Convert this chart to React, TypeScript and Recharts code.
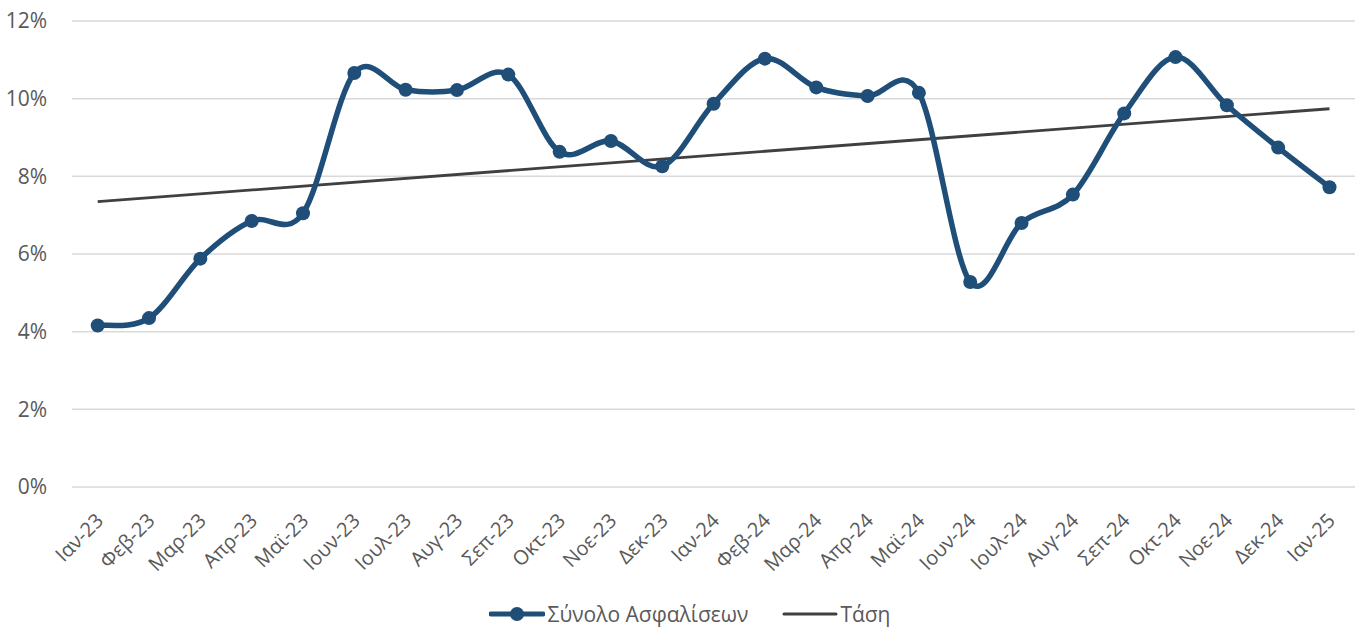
import React from "react";
import { LineChart, Line, XAxis, YAxis, CartesianGrid, Legend } from "recharts";

const months = [
  "Ιαν-23", "Φεβ-23", "Μαρ-23", "Απρ-23", "Μαϊ-23", "Ιουν-23", "Ιουλ-23", "Αυγ-23", "Σεπ-23",
  "Οκτ-23", "Νοε-23", "Δεκ-23", "Ιαν-24", "Φεβ-24", "Μαρ-24", "Απρ-24", "Μαϊ-24", "Ιουν-24",
  "Ιουλ-24", "Αυγ-24", "Σεπ-24", "Οκτ-24", "Νοε-24", "Δεκ-24", "Ιαν-25",
];

const totalInsurance = [
  4.16, 4.35, 5.88, 6.85, 7.05, 10.66, 10.23, 10.22, 10.62,
  8.63, 8.91, 8.26, 9.87, 11.03, 10.29, 10.07, 10.15, 5.28,
  6.8, 7.53, 9.62, 11.07, 9.83, 8.74, 7.72,
];

// Linear trend: endpoints only, drawn as a straight line between them
const trendStart = 7.35;
const trendEnd = 9.74;

const yTicks = [0, 2, 4, 6, 8, 10, 12];

const seriesName = "Σύνολο Ασφαλίσεων";
const trendName = "Τάση";

const data = months.map((m, i) => ({
  month: m,
  total: totalInsurance[i],
  trend: i === 0 ? trendStart : i === months.length - 1 ? trendEnd : null,
}));

const FONT = "'Open Sans', 'Noto Sans', sans-serif";
const TEXT = "#595959";
const BLUE = "#1F4E79";
const DARK = "#404040";

// Excel-like smoothing (Catmull-Rom / cardinal spline with tension 0)
function excelCurve(context: any) {
  let pts: number[][] = [];
  return {
    areaStart() {},
    areaEnd() {},
    lineStart() {
      pts = [];
    },
    point(x: number, y: number) {
      pts.push([+x, +y]);
    },
    lineEnd() {
      const n = pts.length;
      if (!n) return;
      context.moveTo(pts[0][0], pts[0][1]);
      for (let i = 0; i < n - 1; i++) {
        const p0 = pts[i - 1] || pts[i];
        const p1 = pts[i];
        const p2 = pts[i + 1];
        const p3 = pts[i + 2] || pts[i + 1];
        const c1x = p1[0] + (p2[0] - p0[0]) / 6;
        const c1y = p1[1] + (p2[1] - p0[1]) / 6;
        const c2x = p2[0] - (p3[0] - p1[0]) / 6;
        const c2y = p2[1] - (p3[1] - p1[1]) / 6;
        context.bezierCurveTo(c1x, c1y, c2x, c2y, p2[0], p2[1]);
      }
    },
  };
}

const XTick = (props: any) => {
  const { x, y, payload } = props;
  return (
    <g transform={`translate(${x + 2},${y + 22}) rotate(-45)`}>
      <text x={0} y={0} textAnchor="end" fill={TEXT} fontSize={20} fontFamily={FONT} dy="0.35em">
        {payload.value}
      </text>
    </g>
  );
};

const LegendContent = () => (
  <div
    style={{
      display: "flex",
      justifyContent: "center",
      alignItems: "center",
      fontFamily: FONT,
      fontSize: 21,
      color: TEXT,
      height: 40,
      marginTop: 6,
      paddingLeft: 25,
    }}
  >
    <svg width={56} height={16} style={{ marginRight: 2 }}>
      <line x1={2} y1={8} x2={54} y2={8} stroke={BLUE} strokeWidth={5} strokeLinecap="round" />
      <circle cx={28} cy={8} r={7} fill={BLUE} />
    </svg>
    <span style={{ marginRight: 34 }}>{seriesName}</span>
    <svg width={56} height={16} style={{ marginRight: 2 }}>
      <line x1={2} y1={8} x2={54} y2={8} stroke={DARK} strokeWidth={3} strokeLinecap="round" />
    </svg>
    <span>{trendName}</span>
  </div>
);

export default function App() {
  return (
    <div style={{ position: "absolute", left: 0, top: 0, background: "#fff" }}>
      <LineChart
        width={1363}
        height={628}
        data={data}
        margin={{ top: 21, right: 8, bottom: 0, left: 0 }}
      >
        <CartesianGrid vertical={false} stroke="#D9D9D9" strokeWidth={1.5} />
        <XAxis
          dataKey="month"
          axisLine={false}
          tickLine={false}
          interval={0}
          height={101}
          padding={{ left: 25.7, right: 25.5 }}
          tick={<XTick />}
        />
        <YAxis
          width={72}
          domain={[0, 12]}
          ticks={yTicks}
          axisLine={false}
          tickLine={false}
          tickFormatter={(v: number) => `${v}%`}
          tick={{ fill: TEXT, fontSize: 21, fontFamily: FONT }}
          tickMargin={19}
        />
        <Legend verticalAlign="bottom" height={40} content={<LegendContent />} />
        <Line
          dataKey="trend"
          name={trendName}
          stroke={DARK}
          strokeWidth={2.8}
          dot={false}
          activeDot={false}
          connectNulls
          isAnimationActive={false}
          type="linear"
        />
        <Line
          dataKey="total"
          name={seriesName}
          stroke={BLUE}
          strokeWidth={5.5}
          type={excelCurve as any}
          dot={{ r: 7, fill: BLUE, stroke: BLUE, strokeWidth: 0 }}
          activeDot={false}
          isAnimationActive={false}
        />
      </LineChart>
    </div>
  );
}
